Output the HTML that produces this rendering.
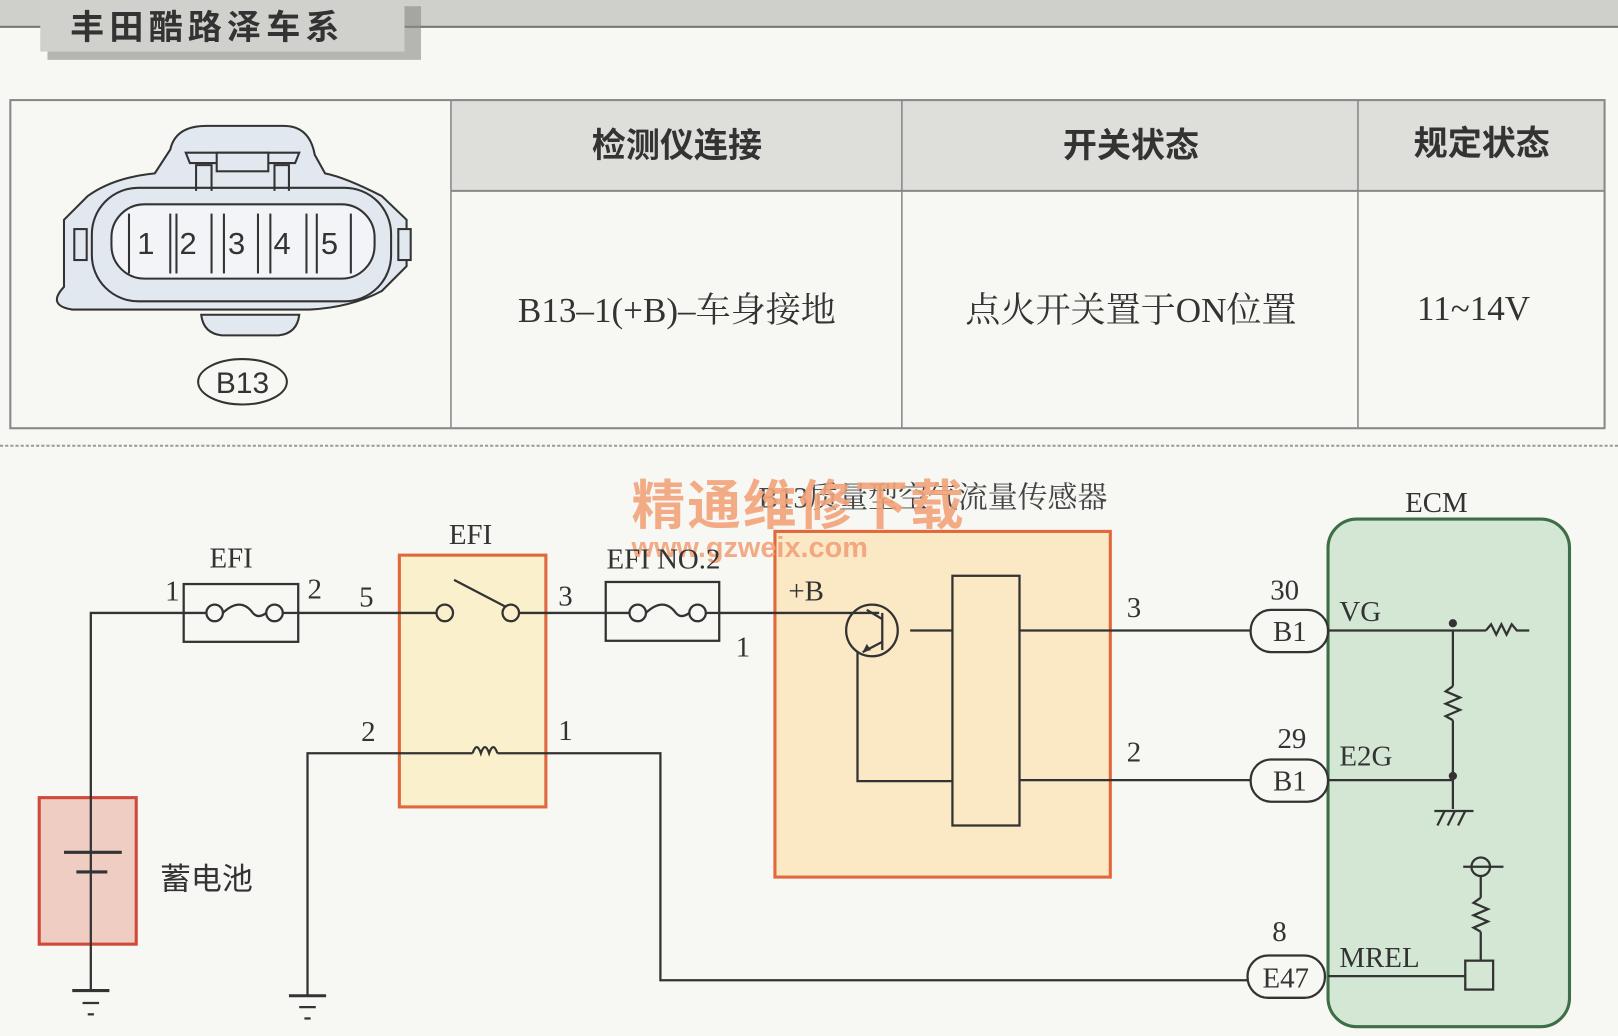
<!DOCTYPE html>
<html><head><meta charset="utf-8"><style>
html,body{margin:0;padding:0;background:#f7f7f3;}
svg{display:block;}
text{font-family:"Liberation Serif","Noto Serif CJK SC",serif;fill:#333;}
.cjk{font-family:"Liberation Sans","Noto Sans CJK SC",sans-serif;}
</style></head><body>
<svg width="1618" height="1036" viewBox="0 0 1568 1004" xmlns="http://www.w3.org/2000/svg">
<rect x="0" y="0" width="1568" height="1004" fill="#f7f7f3"/>
<rect x="0" y="0" width="1568" height="25" fill="#cfcfcb"/>
<line x1="0" y1="26" x2="1568" y2="26" stroke="#777" stroke-width="2"/>
<rect x="46" y="6" width="362" height="52" fill="#8a8a86" opacity="0.6"/>
<rect x="39" y="0" width="353" height="50" fill="#d0d0cc"/>
<text x="68" y="38" class="cjk" font-size="33" font-weight="bold" letter-spacing="5" style="fill:#333">丰田酷路泽车系</text>

<!-- table -->
<rect x="437" y="97" width="1118" height="88" fill="#dededa"/>
<rect x="10" y="97" width="1545" height="318" fill="none" stroke="#888" stroke-width="2"/>
<line x1="437" y1="185" x2="1555" y2="185" stroke="#888" stroke-width="2"/>
<line x1="437" y1="97" x2="437" y2="415" stroke="#888" stroke-width="1.5"/>
<line x1="874" y1="97" x2="874" y2="415" stroke="#888" stroke-width="1.5"/>
<line x1="1316" y1="97" x2="1316" y2="415" stroke="#888" stroke-width="1.5"/>
<text x="656" y="152" class="cjk" font-size="33" font-weight="bold" text-anchor="middle">检测仪连接</text>
<text x="1096" y="152" class="cjk" font-size="33" font-weight="bold" text-anchor="middle">开关状态</text>
<text x="1436" y="150" class="cjk" font-size="33" font-weight="bold" text-anchor="middle">规定状态</text>
<text x="656" y="312" font-size="34" text-anchor="middle">B13–1(+B)–车身接地</text>
<text x="1096" y="312" font-size="34" text-anchor="middle">点火开关置于ON位置</text>
<text x="1428" y="310" font-size="34" text-anchor="middle">11~14V</text>
<line x1="0" y1="432" x2="1568" y2="432" stroke="#999" stroke-width="2" stroke-dasharray="3,2"/>

<!-- connector B13 -->
<g stroke="#333" stroke-width="2" fill="#e2e8f0">
<path d="M165,145 Q170,122 200,122 L275,122 Q300,122 305,150 L315,168 Q335,172 370,190 L394,213 L394,258 L370,282 Q340,298 300,300 L70,300 Q45,296 62,278 L62,213 L85,190 Q110,172 150,168 Z" fill="#e2e8f0"/>
<path d="M195,305 L290,305 Q288,323 270,325 L215,325 Q197,323 195,305 Z"/>
<rect x="89" y="182" width="290" height="110" rx="45"/>
<rect x="108" y="198" width="255" height="72" rx="32" fill="#f2f4f7"/>
<rect x="72" y="222" width="12" height="30"/>
<rect x="386" y="222" width="12" height="30"/>
<path d="M180,148 L290,148 L286,158 L184,158 Z"/>
<rect x="210" y="148" width="50" height="18"/>
<path d="M190,185 L190,160 L205,160 L205,185 M266,185 L266,160 L280,160 L280,185" fill="none"/>
</g>
<g stroke="#333" stroke-width="2">
<line x1="125" y1="207" x2="125" y2="265"/><line x1="165" y1="207" x2="165" y2="265"/>
<line x1="171" y1="207" x2="171" y2="265"/><line x1="205" y1="207" x2="205" y2="265"/>
<line x1="217" y1="207" x2="217" y2="265"/><line x1="250" y1="207" x2="250" y2="265"/>
<line x1="262" y1="207" x2="262" y2="265"/><line x1="297" y1="207" x2="297" y2="265"/>
<line x1="307" y1="207" x2="307" y2="265"/><line x1="340" y1="207" x2="340" y2="265"/>
</g>
<g font-size="30">
<text x="133" y="246" style="font-family:'Liberation Sans'">1</text>
<text x="174" y="246" style="font-family:'Liberation Sans'">2</text>
<text x="221" y="246" style="font-family:'Liberation Sans'">3</text>
<text x="265" y="246" style="font-family:'Liberation Sans'">4</text>
<text x="311" y="246" style="font-family:'Liberation Sans'">5</text>
</g>
<ellipse cx="235" cy="370" rx="43" ry="22" fill="none" stroke="#333" stroke-width="2"/>
<text x="235" y="381" font-size="29" text-anchor="middle" style="font-family:'Liberation Sans'">B13</text>

<!-- boxes -->
<rect x="38" y="773" width="94" height="142" fill="#efcdc3" stroke="#cf4a38" stroke-width="3"/>
<rect x="387" y="538" width="142" height="244" fill="#fbf0cc" stroke="#e0683c" stroke-width="3"/>
<rect x="751" y="515" width="325" height="335" fill="#fbe8c4" stroke="#e0683c" stroke-width="3"/>
<rect x="1287" y="503" width="234" height="492" rx="28" fill="#d4e6d4" stroke="#3e6e45" stroke-width="3"/>

<!-- sensor title + watermark -->
<text x="735" y="492" font-size="29" style="fill:#444">B13质量型空气流量传感器</text>
<text x="612" y="508" class="cjk" font-size="52" font-weight="bold" style="fill:#f2a37a" opacity="0.9" letter-spacing="2">精通维修下载</text>
<text x="612" y="540" font-size="28" font-weight="bold" style="fill:#f2a37a;font-family:'Liberation Sans'" opacity="0.9">www.gzweix.com</text>

<g stroke="#333" stroke-width="2.2" fill="none">
<polyline points="178,594 88,594 88,960"/>
<line x1="62" y1="826" x2="118" y2="826" stroke-width="3"/>
<line x1="74" y1="845" x2="104" y2="845" stroke-width="3"/>
<line x1="70" y1="960" x2="106" y2="960" stroke-width="3"/>
<line x1="80" y1="972" x2="96" y2="972"/>
<line x1="85" y1="983" x2="91" y2="983"/>
<rect x="178" y="566" width="111" height="56"/>
<line x1="178" y1="594" x2="200" y2="594"/>
<circle cx="208" cy="594" r="8"/>
<path d="M216,594 Q233,578 245,594 Q250,600 258,594"/>
<circle cx="266" cy="594" r="8"/>
<line x1="274" y1="594" x2="289" y2="594"/>
<line x1="289" y1="594" x2="423" y2="594"/>
<circle cx="431" cy="594" r="8"/>
<circle cx="495" cy="594" r="8"/>
<line x1="440" y1="562" x2="490" y2="588"/>
<line x1="503" y1="594" x2="587" y2="594"/>
<rect x="587" y="564" width="110" height="57"/>
<line x1="587" y1="594" x2="610" y2="594"/>
<circle cx="618" cy="594" r="8"/>
<path d="M626,594 Q643,578 655,594 Q660,600 668,594"/>
<circle cx="676" cy="594" r="8"/>
<line x1="684" y1="594" x2="697" y2="594"/>
<line x1="697" y1="594" x2="831" y2="594"/>
<polyline points="298,965 298,730 458,730"/>
<path d="M458,730 q4,-12 8,0 q4,-12 8,0 q4,-12 8,0"/>
<polyline points="482,730 640,730 640,950 1212,950"/>
<line x1="280" y1="965" x2="316" y2="965" stroke-width="3"/>
<line x1="290" y1="976" x2="306" y2="976"/>
<line x1="295" y1="987" x2="301" y2="987"/>
<circle cx="845" cy="611" r="25"/>
<line x1="831" y1="594" x2="852" y2="594"/>
<line x1="882" y1="611" x2="923" y2="611"/>
<line x1="855" y1="594" x2="855" y2="630"/>
<line x1="855" y1="600" x2="840" y2="591"/>
<line x1="855" y1="622" x2="836" y2="632"/>
<polyline points="831,632 831,757 923,757"/>
<rect x="923" y="558" width="65" height="242"/>
<line x1="988" y1="611" x2="1212" y2="611"/>
<line x1="988" y1="756" x2="1212" y2="756"/>
<line x1="1287" y1="611" x2="1440" y2="611"/>
<path d="M1440,611 l5,-6 l5,10 l5,-10 l5,10 l5,-10 l5,6 h12"/>
<line x1="1408" y1="611" x2="1408" y2="665"/>
<path d="M1408,665 l-7,5 l14,6 l-14,6 l14,6 l-14,6 l7,4"/>
<line x1="1408" y1="698" x2="1408" y2="784"/>
<line x1="1287" y1="756" x2="1408" y2="756"/>
<line x1="1390" y1="786" x2="1428" y2="786"/>
<line x1="1393" y1="800" x2="1400" y2="786"/><line x1="1403" y1="800" x2="1410" y2="786"/><line x1="1413" y1="800" x2="1420" y2="786"/>
<circle cx="1435" cy="840" r="9"/>
<line x1="1418" y1="840" x2="1457" y2="840"/>
<line x1="1435" y1="849" x2="1435" y2="870"/>
<path d="M1435,870 l-7,5 l14,6 l-14,6 l14,6 l-14,6 l7,4"/>
<line x1="1435" y1="903" x2="1435" y2="931"/>
<rect x="1420" y="931" width="27" height="28"/>
<line x1="1287" y1="946" x2="1420" y2="946"/>
</g>
<circle cx="1408" cy="604" r="4" fill="#333"/>
<circle cx="1408" cy="752" r="4" fill="#333"/>
<path d="M836,632 l8,-2 l-4,-6 z" fill="#333"/>

<g stroke="#333" stroke-width="2.2" fill="#f7f7f3">
<rect x="1212" y="591" width="75" height="41" rx="20"/>
<rect x="1212" y="736" width="75" height="41" rx="20"/>
<rect x="1209" y="926" width="75" height="41" rx="20"/>
</g>
<g font-size="28">
<text x="1250" y="621" text-anchor="middle">B1</text>
<text x="1250" y="766" text-anchor="middle">B1</text>
<text x="1246" y="957" text-anchor="middle">E47</text>
<text x="1245" y="581" text-anchor="middle">30</text>
<text x="1252" y="725" text-anchor="middle">29</text>
<text x="1240" y="912" text-anchor="middle">8</text>
<text x="1298" y="602">VG</text>
<text x="1298" y="742">E2G</text>
<text x="1298" y="937">MREL</text>
<text x="1392" y="496" text-anchor="middle">ECM</text>
<text x="224" y="550" text-anchor="middle">EFI</text>
<text x="456" y="527" text-anchor="middle">EFI</text>
<text x="643" y="551" text-anchor="middle">EFI NO.2</text>
<text x="160" y="582">1</text>
<text x="298" y="580">2</text>
<text x="348" y="588">5</text>
<text x="541" y="587">3</text>
<text x="713" y="636">1</text>
<text x="350" y="718">2</text>
<text x="541" y="717">1</text>
<text x="764" y="582">+B</text>
<text x="1092" y="598">3</text>
<text x="1092" y="738">2</text>
</g>
<text x="155" y="862" class="cjk" font-size="30" style="fill:#333">蓄电池</text>
</svg>
</body></html>
